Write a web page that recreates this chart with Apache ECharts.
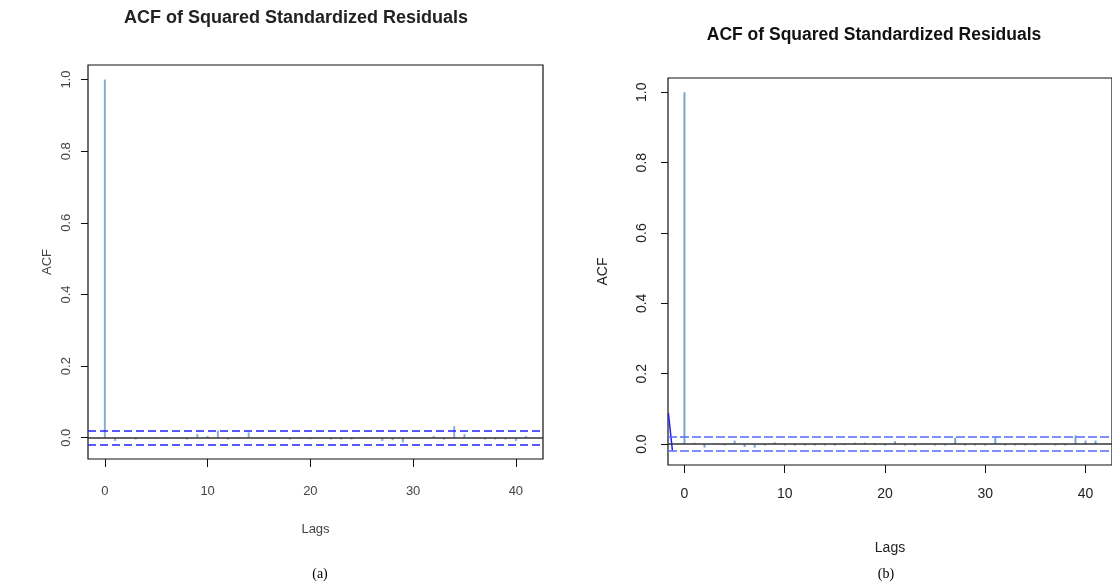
<!DOCTYPE html>
<html>
<head>
<meta charset="utf-8">
<script src="https://cdn.jsdelivr.net/npm/echarts@6/dist/echarts.min.js"></script>
<style>
  html, body { margin: 0; padding: 0; background: #fff; }
  #chart { width: 1112px; height: 588px; }
</style>
</head>
<body>
<div id="chart"></div>
<script>
// lags shown in both panels
const lags = [0,1,2,3,4,5,6,7,8,9,10,11,12,13,14,15,16,17,18,19,20,
              21,22,23,24,25,26,27,28,29,30,31,32,33,34,35,36,37,38,39,40,41]

// ACF values
const acfA = [1.0, -0.009, 0.002, -0.005, 0.001, -0.002, 0.002, 0.001, -0.005, 0.010,
              0.005, 0.020, -0.005, 0.002, 0.015, -0.002, 0.001, -0.002, -0.005, 0.002,
              -0.004, 0.001, -0.005, -0.005, -0.005, 0.002, -0.002, -0.009, -0.007, -0.013,
              0.002, -0.002, 0.005, -0.005, 0.032, 0.010, 0.002, -0.005, -0.005, -0.005,
              -0.009, 0.005]
const acfB = [1.0, 0.004, -0.010, 0.002, -0.004, 0.010, -0.008, -0.010, -0.004, 0.005,
              -0.004, -0.004, -0.004, -0.004, -0.004, -0.004, -0.003, 0.004, 0.004, -0.003,
              -0.004, 0.008, -0.004, -0.004, 0.002, -0.004, -0.004, 0.018, -0.004, -0.004,
              -0.004, 0.018, -0.004, -0.004, -0.004, -0.004, 0.002, -0.004, -0.004, 0.025,
              0.010, 0.010]

// confidence bounds
const ciA = 0.0183
const ciB = 0.0183

// stray blue segment at the left edge of panel (b)
const leadB = [[-1.6, 0.088], [-1.2, -0.0183]]

const xTicks = [0, 10, 20, 30, 40]
const yTicks = [0, 0.2, 0.4, 0.6, 0.8, 1.0]
const xRange = [-1.64, 42.64]
const yRange = [-0.0594, 1.0407]

const font = 'Liberation Sans'

function pairs(vals) {
    return lags.map((l, i) => [l, vals[i]])
}

function xAxisFor(idx, color, size, margin, nameGap) {
    return {
        type: 'value', gridIndex: idx, min: xRange[0], max: xRange[1],
        name: 'Lags', nameLocation: 'middle', nameGap: nameGap,
        nameTextStyle: {color: color, fontFamily: font, fontSize: size},
        splitLine: {show: false},
        axisLine: {show: false, onZero: false},
        axisTick: {show: true, length: 8, customValues: xTicks, lineStyle: {color: '#111'}},
        axisLabel: {customValues: xTicks, margin: margin, color: color, fontFamily: font, fontSize: size}
    }
}

function yAxisFor(idx, color, size, margin, nameGap) {
    return {
        type: 'value', gridIndex: idx, min: yRange[0], max: yRange[1],
        name: 'ACF', nameLocation: 'middle', nameGap: nameGap, nameRotate: 90,
        nameTextStyle: {color: color, fontFamily: font, fontSize: size},
        splitLine: {show: false},
        axisLine: {show: false, onZero: false},
        axisTick: {show: true, length: 7, customValues: yTicks, lineStyle: {color: '#111'}},
        axisLabel: {customValues: yTicks, rotate: 90, margin: margin, color: color,
            fontFamily: font, fontSize: size, formatter: v => v.toFixed(1)}
    }
}

function ciLines(ci, color, dash) {
    return {
        silent: true, symbol: 'none', label: {show: false},
        data: [
            {yAxis: 0, lineStyle: {color: '#333', type: 'solid', width: 1.5}},
            {yAxis: ci, lineStyle: {color: color, type: dash, width: 1.5}},
            {yAxis: -ci, lineStyle: {color: color, type: dash, width: 1.5}}
        ]
    }
}

let option = {
    animation: false,
    backgroundColor: '#fff',
    title: [
        {text: 'ACF of Squared Standardized Residuals', left: 296, top: 9, textAlign: 'center', padding: 0,
         textStyle: {fontFamily: font, fontSize: 18, fontWeight: 'bold', color: '#222'}},
        {text: 'ACF of Squared Standardized Residuals', left: 874, top: 26, textAlign: 'center', padding: 0,
         textStyle: {fontFamily: font, fontSize: 17.5, fontWeight: 'bold', color: '#111'}}
    ],
    graphic: [
        {type: 'text', x: 320, y: 574, style: {text: '(a)', font: '14px "Liberation Serif"', fill: '#000', align: 'center', verticalAlign: 'middle'}},
        {type: 'text', x: 886, y: 574, style: {text: '(b)', font: '14px "Liberation Serif"', fill: '#000', align: 'center', verticalAlign: 'middle'}}
    ],
    grid: [
        {left: 88, top: 65, width: 455, height: 394, show: true, borderColor: '#111', borderWidth: 1.2, backgroundColor: 'transparent'},
        {left: 668, top: 78, width: 448, height: 387, show: true, borderColor: '#111', borderWidth: 1.2, backgroundColor: 'transparent'}
    ],
    xAxis: [
        xAxisFor(0, '#444', 13, 26, 64),
        xAxisFor(1, '#222', 14, 22, 76)
    ],
    yAxis: [
        yAxisFor(0, '#444', 13, 15, 34),
        yAxisFor(1, '#222', 14, 19, 58)
    ],
    series: [
        {
            name: 'acfA', type: 'bar', xAxisIndex: 0, yAxisIndex: 0, barWidth: 2,
            data: pairs(acfA), itemStyle: {color: '#86aed4'},
            markLine: ciLines(ciA, '#2323ff', [8, 4])
        },
        {
            name: 'acfB', type: 'bar', xAxisIndex: 1, yAxisIndex: 1, barWidth: 2,
            data: pairs(acfB), itemStyle: {color: '#7aa5cf'},
            markLine: ciLines(ciB, '#5668ff', [9, 3])
        },
        {
            name: 'leadB', type: 'line', xAxisIndex: 1, yAxisIndex: 1, symbol: 'none',
            data: leadB, lineStyle: {color: '#2020ff', width: 1.5}
        }
    ]
}

let mychart = echarts.init(document.getElementById('chart'))
mychart.setOption(option)
</script>
</body>
</html>
